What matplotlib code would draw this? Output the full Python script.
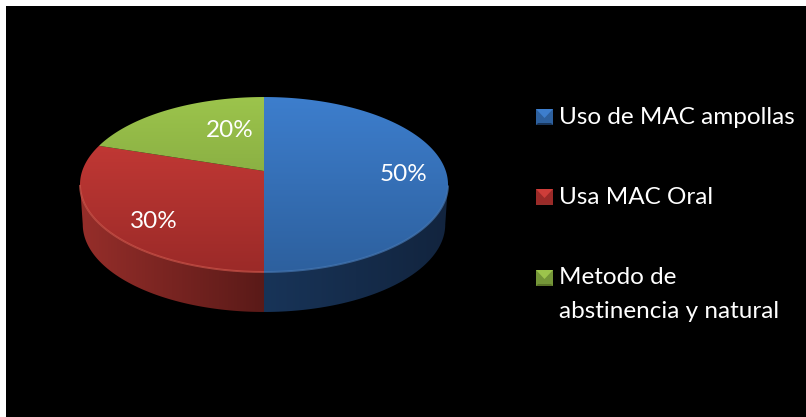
import numpy as np
import matplotlib.pyplot as plt
from matplotlib.patches import Polygon, Rectangle

plt.rcParams['font.family'] = ['Lato', 'DejaVu Sans']

categories = ["Uso de MAC ampollas", "Usa MAC Oral", "Metodo de\nabstinencia y natural"]
values = [50, 30, 20]
pct_labels = ["50%", "30%", "20%"]

# colours: top of the gradient, bottom of the gradient, side left, side right, rim light
top_hi = [(61, 126, 205), (206, 61, 57), (156, 196, 76)]
top_lo = [(45, 96, 158), (155, 42, 40), (116, 150, 56)]
side_l = [(24, 52, 88), (150, 46, 42), (90, 115, 40)]
side_r = [(18, 36, 62), (90, 26, 24), (90, 115, 40)]
rim = [(70, 120, 180), (205, 85, 75), (156, 196, 76)]

# pie geometry in pixels, perspective so the apex sits above the ellipse centre
apex_x, apex_y = 264, 171
A, B, q = 181.8, 85.4, 0.1543
depth = 40
shrink = 0.985
label_r = 0.75
label_nudge = [(3, 3), (8, 10), (39, 7)]
legend_y = [117, 197, 278]


def rgb(c):
    return tuple(np.array(c) / 255)


def project(theta, r=1.0):
    # theta is clockwise from the top of the pie, in radians
    u = r * np.sin(theta)
    v = r * np.cos(theta)
    w = 1 + q * v
    return apex_x + A * u / w, apex_y - B * v / w


def gradient(ax, clip, c0, c1, extent, horizontal=False):
    c0 = np.array(rgb(c0))
    c1 = np.array(rgb(c1))
    t = np.linspace(0, 1, 256)
    img = c0[None, :] * (1 - t[:, None]) + c1[None, :] * t[:, None]
    img = img[None, :, :] if horizontal else img[:, None, :]
    im = ax.imshow(img, extent=extent, aspect='auto', origin='upper', zorder=3, interpolation='bilinear')
    patch = Polygon(clip, closed=True, transform=ax.transData, fc='none', ec='none')
    ax.add_patch(patch)
    im.set_clip_path(patch)


fig = plt.figure(figsize=(8.06, 4.17), dpi=100, facecolor='white')
ax = fig.add_axes([0, 0, 1, 1])
ax.add_patch(Rectangle((6, 6), 800, 411, fc='black', ec='none', zorder=0))

edges = np.cumsum([0] + values) / np.sum(values) * 2 * np.pi

# side wall first, only where the rim faces the viewer
front_start = np.arccos(-q)
for i in range(len(values)):
    a0 = max(edges[i], front_start)
    a1 = min(edges[i + 1], 2 * np.pi - front_start)
    if a1 <= a0:
        continue
    th = np.linspace(a0, a1, 150)
    x, y = project(th)
    xb = apex_x + (x - apex_x) * shrink
    yb = y + depth
    poly = np.column_stack([np.r_[x, xb[::-1]], np.r_[y, yb[::-1]]])
    ext = (poly[:, 0].min(), poly[:, 0].max(), poly[:, 1].max(), poly[:, 1].min())
    gradient(ax, poly, side_l[i], side_r[i], ext, horizontal=True)

# top faces
top_y = project(0.0)[1]
bot_y = project(np.pi)[1]
for i in range(len(values)):
    th = np.linspace(edges[i], edges[i + 1], 200)
    x, y = project(th)
    poly = np.column_stack([np.r_[apex_x, x], np.r_[apex_y, y]])
    gradient(ax, poly, top_hi[i], top_lo[i], (70, 460, bot_y, top_y))

    # bevel along the front of the rim only
    front = (th > front_start) & (th < 2 * np.pi - front_start)
    if front.any():
        ax.plot(x[front], y[front], color=rgb(rim[i]), lw=1.4, alpha=0.7, zorder=4, solid_capstyle='butt')

    mid = (edges[i] + edges[i + 1]) / 2
    lx, ly = project(mid, label_r)
    ax.text(lx + label_nudge[i][0], ly + label_nudge[i][1], pct_labels[i], color='white',
            fontsize=17.5, ha='center', va='center', zorder=6)

# legend with small bevelled keys
for i, name in enumerate(categories):
    yc = legend_y[i]
    x0, x1 = 536, 553
    y0, y1 = yc - 8, yc + 8
    ax.add_patch(Rectangle((x0, y0), x1 - x0, y1 - y0, fc=rgb(top_lo[i]), ec='none', zorder=5))
    ax.add_patch(Polygon([(x0, y0), (x1, y0), ((x0 + x1) / 2, yc + 1)], closed=True,
                         fc=rgb(top_hi[i]), ec='none', zorder=6))
    ax.add_patch(Polygon([(x0, y1), (x1, y1), (x1 - 2, y1 - 2), (x0 + 2, y1 - 2)], closed=True,
                         fc=rgb(side_l[i]), ec='none', zorder=6))
    ax.text(559, yc, name.split("\n")[0], color='white', fontsize=17.5, ha='left', va='center', zorder=6)
    if "\n" in name:
        ax.text(559, yc + 33, name.split("\n")[1], color='white', fontsize=17.5, ha='left', va='center', zorder=6)

ax.set_xlim(0, 806)
ax.set_ylim(417, 0)
ax.axis('off')
fig.savefig("out.png", dpi=100, facecolor=fig.get_facecolor())
